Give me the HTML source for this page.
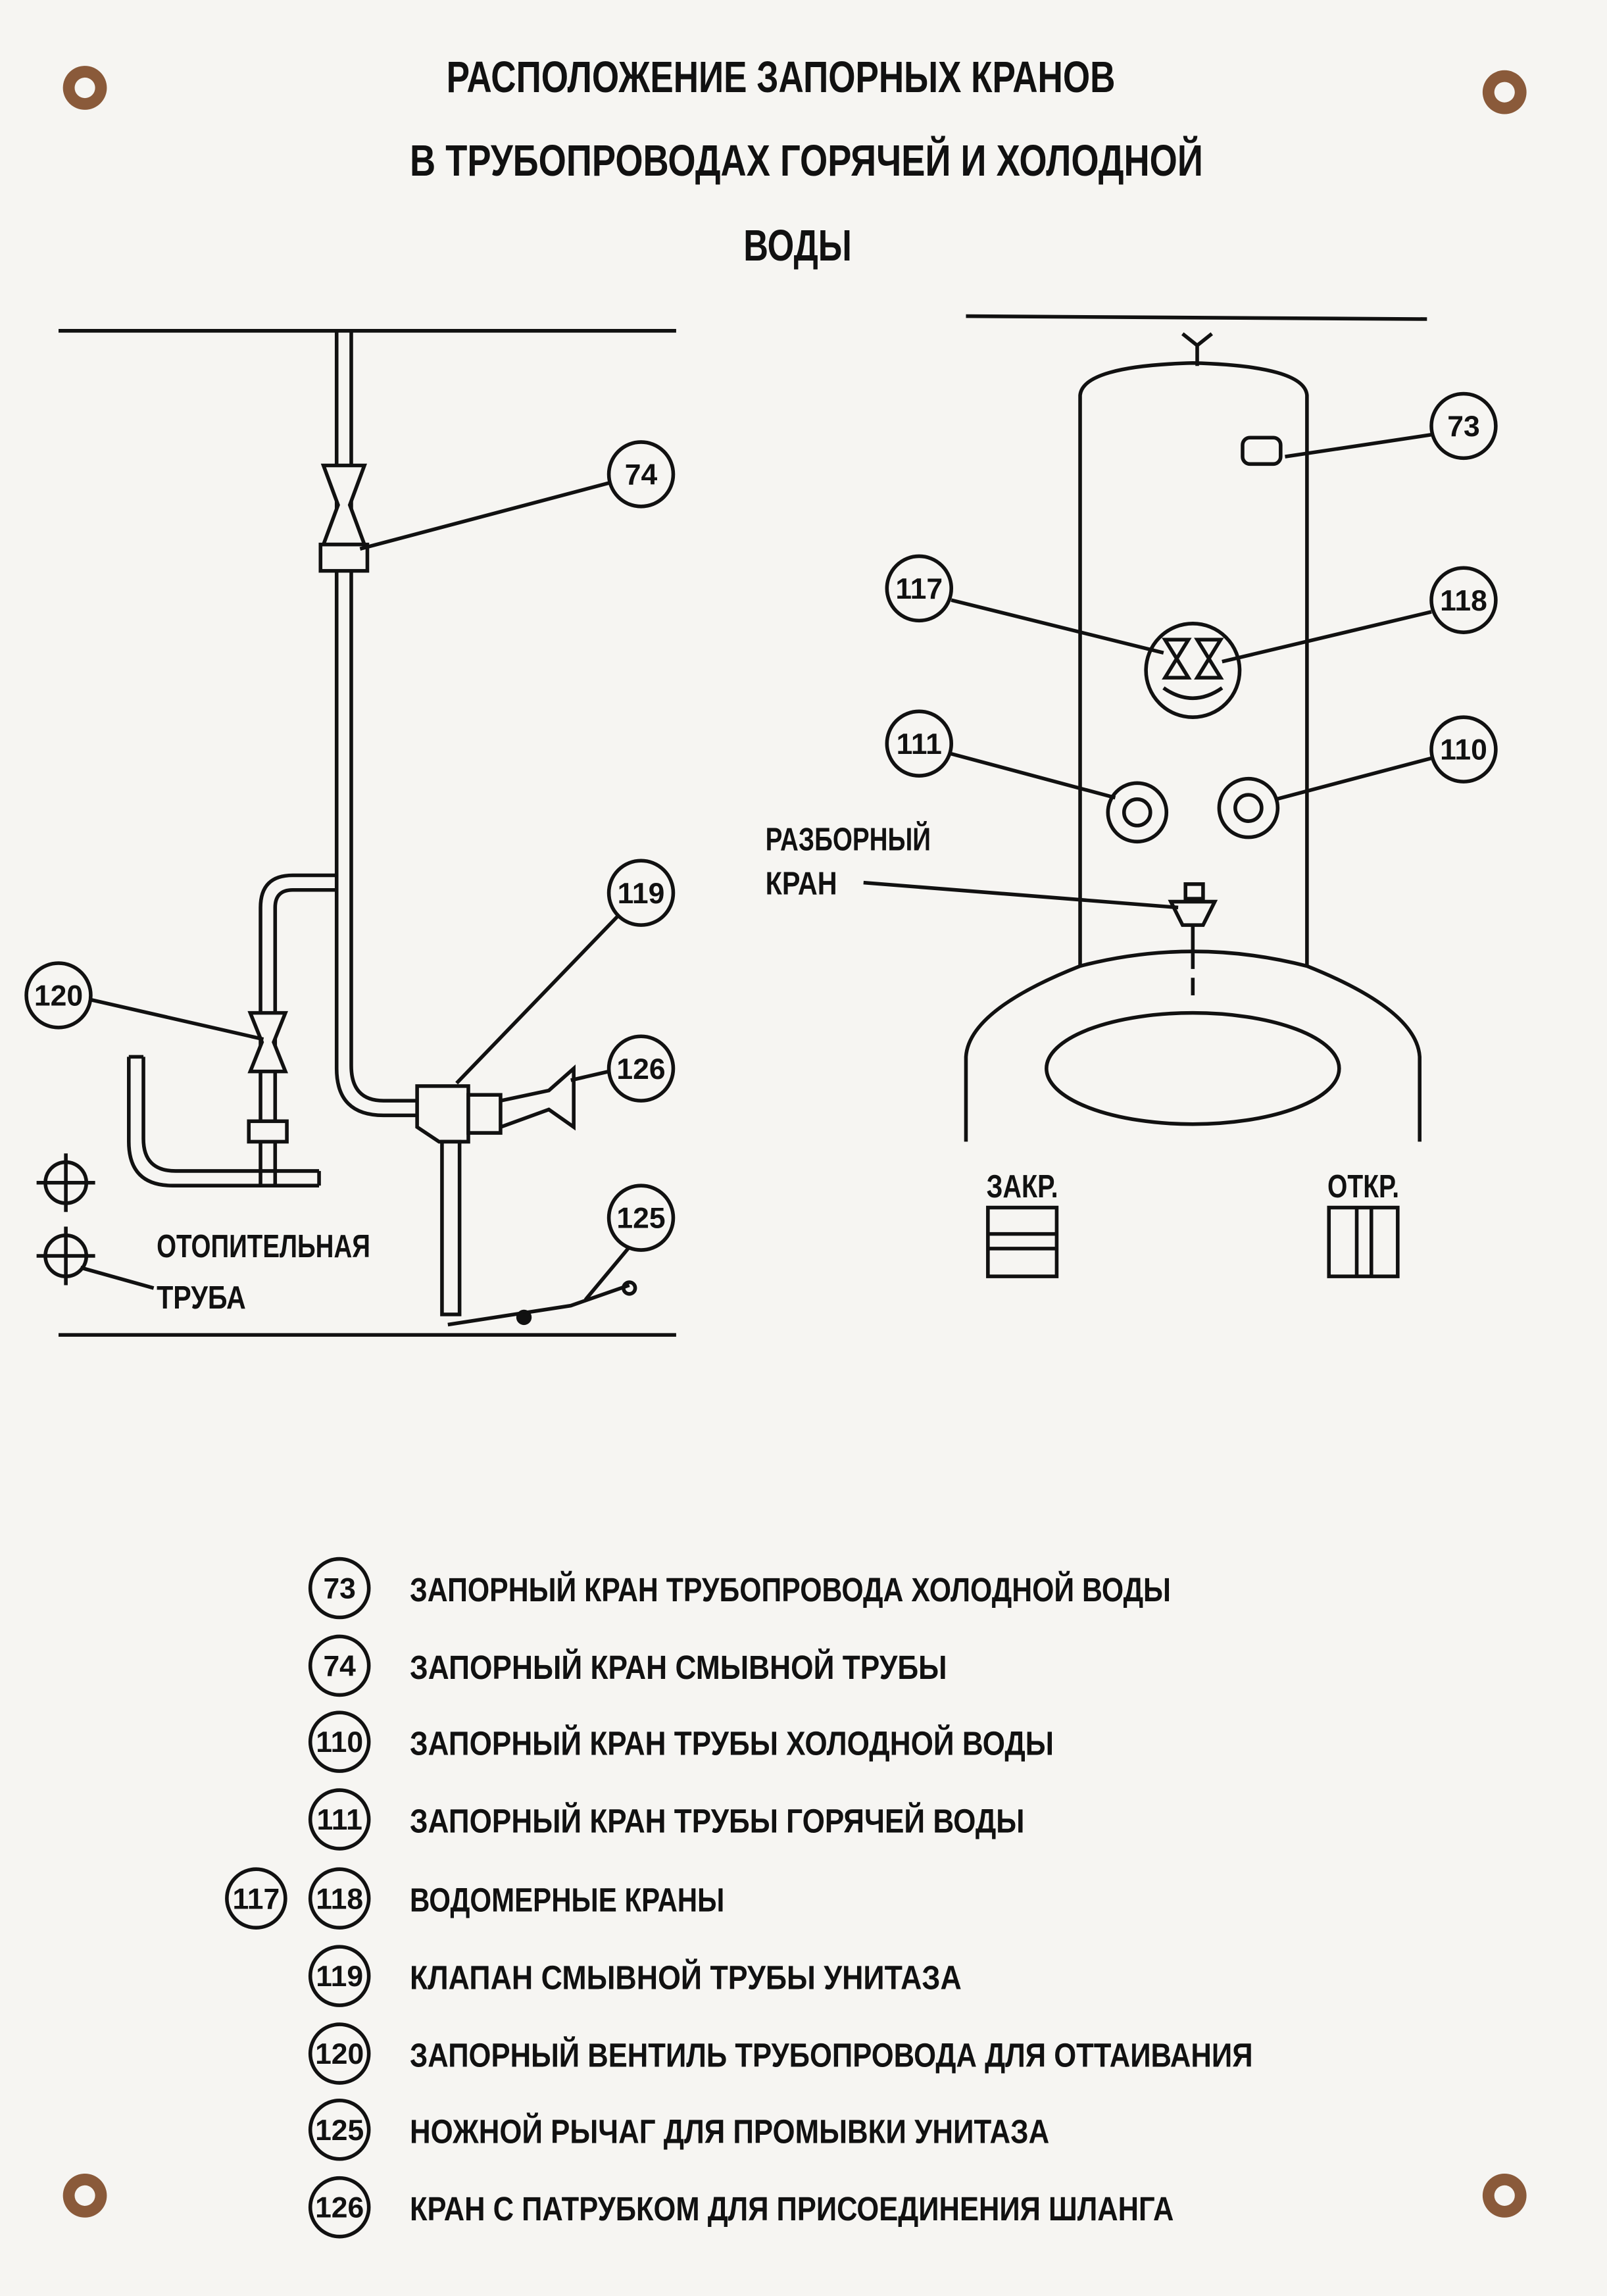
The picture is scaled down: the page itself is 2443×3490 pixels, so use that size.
<!DOCTYPE html>
<html><head><meta charset="utf-8"><style>
html,body{margin:0;padding:0;background:#f6f5f2}
svg{display:block}
text{font-family:"Liberation Sans Narrow","Liberation Sans",sans-serif;font-weight:bold;fill:#111}
</style></head><body>
<svg width="2443" height="3490" viewBox="0 0 1098 1568.6" preserveAspectRatio="none" xmlns="http://www.w3.org/2000/svg">
<rect width="1098" height="1569" fill="#f6f5f2"/>
<g fill="#8a5a3a"><circle cx="58" cy="60" r="15"/><circle cx="1028" cy="63" r="15"/><circle cx="58" cy="1500" r="15"/><circle cx="1028" cy="1500" r="15"/></g>
<g fill="#f6f5f2"><circle cx="58" cy="60" r="7"/><circle cx="1028" cy="63" r="7"/><circle cx="58" cy="1500" r="7"/><circle cx="1028" cy="1500" r="7"/></g>
<g font-size="30" lengthAdjust="spacingAndGlyphs">
<text x="305" y="63" textLength="457" lengthAdjust="spacingAndGlyphs">РАСПОЛОЖЕНИЕ ЗАПОРНЫХ КРАНОВ</text>
<text x="280" y="120" textLength="542" lengthAdjust="spacingAndGlyphs">В ТРУБОПРОВОДАХ ГОРЯЧЕЙ И ХОЛОДНОЙ</text>
<text x="508" y="178" textLength="74" lengthAdjust="spacingAndGlyphs">ВОДЫ</text>
</g>
<g stroke="#111" stroke-width="2.5" fill="none">
<line x1="40" y1="226" x2="462" y2="226"/>
<line x1="40" y1="912" x2="462" y2="912"/>
<path d="M230 226 V730 Q230 762 262 762 H285"/>
<path d="M240 226 V728 Q240 752 262 752 H285"/>
<path d="M221 318 H249 L239 345 L249 372 H221 L231 345 Z" fill="#f6f5f2"/>
<rect x="219" y="372" width="32" height="18" fill="#f6f5f2"/>
<path d="M230 598 H200 Q178 598 178 620 V810"/>
<path d="M230 608 H200 Q188 608 188 620 V810"/>
<path d="M171 692 H195 L187 712 L195 732 H171 L179 712 Z" fill="#f6f5f2"/>
<rect x="170" y="766" width="26" height="14" fill="#f6f5f2"/>
<path d="M88 722 V780 Q88 810 118 810 H218"/>
<path d="M98 722 V778 Q98 800 120 800 H218"/>
<line x1="88" y1="722" x2="98" y2="722"/>
<line x1="218" y1="800" x2="218" y2="810"/>
<circle cx="45" cy="808" r="14"/><line x1="25" y1="808" x2="65" y2="808"/><line x1="45" y1="788" x2="45" y2="828"/>
<circle cx="45" cy="858" r="14"/><line x1="25" y1="858" x2="65" y2="858"/><line x1="45" y1="838" x2="45" y2="878"/>
<line x1="55" y1="866" x2="105" y2="880"/>
<path d="M285 742 H320 V780 H300 L285 770 Z" fill="#f6f5f2"/>
<rect x="320" y="748" width="22" height="26" fill="#f6f5f2"/>
<path d="M342 752 L375 745 L392 730 V770 L375 758 L342 770"/>
<rect x="302" y="780" width="12" height="118" fill="#f6f5f2"/>
<path d="M306 905 L390 892 L430 878"/><circle cx="358" cy="900" r="4" fill="#111"/><circle cx="430" cy="880" r="4"/>
<circle cx="438" cy="324" r="22"/><line x1="416" y1="330" x2="246" y2="375"/>
<circle cx="40" cy="680" r="22"/><line x1="62" y1="683" x2="180" y2="710"/>
<circle cx="438" cy="610" r="22"/><line x1="422" y1="626" x2="312" y2="740"/>
<circle cx="438" cy="730" r="22"/><line x1="416" y1="732" x2="390" y2="738"/>
<circle cx="438" cy="832" r="22"/><line x1="430" y1="852" x2="400" y2="888"/>
<line x1="660" y1="216" x2="975" y2="218"/>
<path d="M808 228 L818 236 L828 228 M818 236 V250"/>
<path d="M738 660 V270 Q740 250 815 248 Q891 250 893 270 V660"/>
<path d="M660 780 V722 Q662 690 738 660 Q815 640 893 660 Q968 690 970 722 V780"/>
<ellipse cx="815" cy="730" rx="100" ry="38"/>
<circle cx="1000" cy="291" r="22"/><line x1="978" y1="297" x2="878" y2="312"/>
<rect x="849" y="299" width="26" height="18" rx="5"/>
<circle cx="628" cy="402" r="22"/><line x1="650" y1="410" x2="795" y2="446"/>
<circle cx="1000" cy="410" r="22"/><line x1="978" y1="418" x2="835" y2="452"/>
<circle cx="815" cy="458" r="32"/>
<path d="M796 437 H812 L804 450 L812 463 H796 L804 450 Z M818 437 H834 L826 450 L834 463 H818 L826 450 Z"/>
<path d="M795 470 Q815 484 835 470"/>
<circle cx="628" cy="508" r="22"/><line x1="650" y1="515" x2="762" y2="545"/>
<circle cx="1000" cy="512" r="22"/><line x1="978" y1="518" x2="872" y2="546"/>
<circle cx="777" cy="555" r="20"/><circle cx="777" cy="555" r="9"/>
<circle cx="853" cy="552" r="20"/><circle cx="853" cy="552" r="9"/>
<line x1="590" y1="603" x2="805" y2="620"/>
<rect x="810" y="604" width="12" height="10"/>
<path d="M800 616 H830 L822 632 H808 Z"/>
<line x1="815" y1="632" x2="815" y2="662"/>
<line x1="815" y1="668" x2="815" y2="680"/>
<rect x="675" y="825" width="47" height="47"/><line x1="675" y1="843" x2="722" y2="843"/><line x1="675" y1="853" x2="722" y2="853"/>
<rect x="908" y="825" width="47" height="47"/><line x1="927" y1="825" x2="927" y2="872"/><line x1="937" y1="825" x2="937" y2="872"/>
<circle cx="232" cy="1085" r="20"/><circle cx="232" cy="1138" r="20"/><circle cx="232" cy="1190" r="20"/>
<circle cx="232" cy="1243" r="20"/><circle cx="232" cy="1297" r="20"/><circle cx="175" cy="1297" r="20"/>
<circle cx="232" cy="1350" r="20"/><circle cx="232" cy="1403" r="20"/><circle cx="232" cy="1455" r="20"/><circle cx="232" cy="1508" r="20"/>
</g>
<g font-size="20" text-anchor="middle">
<text x="438" y="331">74</text><text x="40" y="687">120</text><text x="438" y="617">119</text>
<text x="438" y="737">126</text><text x="438" y="839">125</text><text x="1000" y="298">73</text>
<text x="628" y="409">117</text><text x="1000" y="417">118</text><text x="628" y="515">111</text><text x="1000" y="519">110</text>
<text x="232" y="1092">73</text><text x="232" y="1145">74</text><text x="232" y="1197">110</text><text x="232" y="1250">111</text>
<text x="175" y="1304">117</text><text x="232" y="1304">118</text><text x="232" y="1357">119</text><text x="232" y="1410">120</text>
<text x="232" y="1462">125</text><text x="232" y="1515">126</text>
</g>
<g font-size="22">
<text x="107" y="859" textLength="146" lengthAdjust="spacingAndGlyphs">ОТОПИТЕЛЬНАЯ</text>
<text x="107" y="894" textLength="61" lengthAdjust="spacingAndGlyphs">ТРУБА</text>
<text x="523" y="581" textLength="113" lengthAdjust="spacingAndGlyphs">РАЗБОРНЫЙ</text>
<text x="523" y="611" textLength="49" lengthAdjust="spacingAndGlyphs">КРАН</text>
<text x="674" y="818" textLength="49" lengthAdjust="spacingAndGlyphs">ЗАКР.</text>
<text x="907" y="818" textLength="49" lengthAdjust="spacingAndGlyphs">ОТКР.</text>
</g>
<g font-size="23">
<text x="280" y="1094" textLength="520" lengthAdjust="spacingAndGlyphs">ЗАПОРНЫЙ КРАН ТРУБОПРОВОДА ХОЛОДНОЙ ВОДЫ</text>
<text x="280" y="1147" textLength="367" lengthAdjust="spacingAndGlyphs">ЗАПОРНЫЙ КРАН  СМЫВНОЙ ТРУБЫ</text>
<text x="280" y="1199" textLength="440" lengthAdjust="spacingAndGlyphs">ЗАПОРНЫЙ КРАН ТРУБЫ ХОЛОДНОЙ ВОДЫ</text>
<text x="280" y="1252" textLength="420" lengthAdjust="spacingAndGlyphs">ЗАПОРНЫЙ КРАН ТРУБЫ ГОРЯЧЕЙ ВОДЫ</text>
<text x="280" y="1306" textLength="215" lengthAdjust="spacingAndGlyphs">ВОДОМЕРНЫЕ КРАНЫ</text>
<text x="280" y="1359" textLength="377" lengthAdjust="spacingAndGlyphs">КЛАПАН СМЫВНОЙ ТРУБЫ УНИТАЗА</text>
<text x="280" y="1412" textLength="576" lengthAdjust="spacingAndGlyphs">ЗАПОРНЫЙ ВЕНТИЛЬ ТРУБОПРОВОДА ДЛЯ ОТТАИВАНИЯ</text>
<text x="280" y="1464" textLength="437" lengthAdjust="spacingAndGlyphs">НОЖНОЙ РЫЧАГ ДЛЯ ПРОМЫВКИ УНИТАЗА</text>
<text x="280" y="1517" textLength="522" lengthAdjust="spacingAndGlyphs">КРАН С ПАТРУБКОМ ДЛЯ ПРИСОЕДИНЕНИЯ ШЛАНГА</text>
</g>
</svg>
</body></html>
